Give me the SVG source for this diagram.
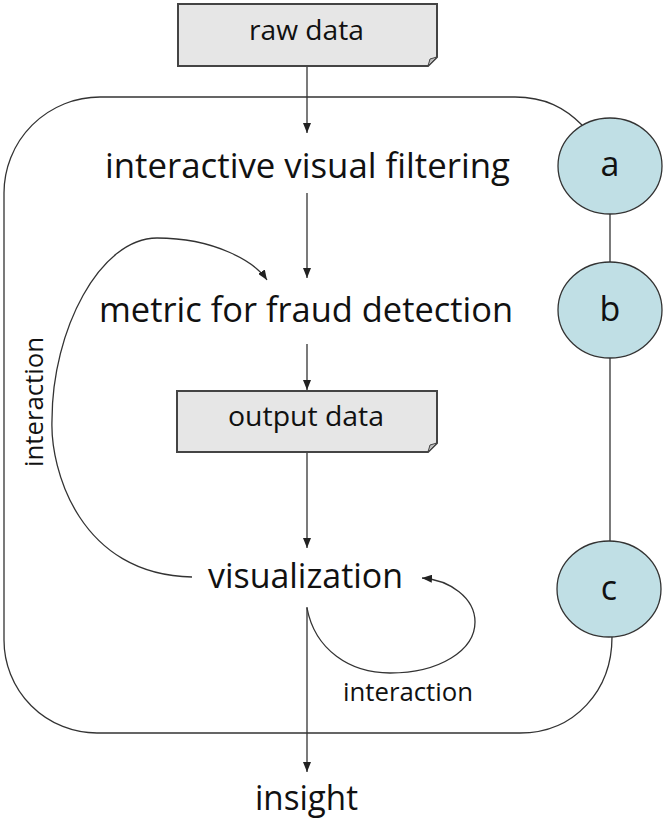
<svg xmlns="http://www.w3.org/2000/svg" width="667" height="820" viewBox="0 0 667 820">
<style>
.main{font-family:"Open Sans","Liberation Sans",sans-serif;font-size:35px;fill:#111}
.box{font-family:"Open Sans","Liberation Sans",sans-serif;font-size:28px;fill:#111}
.small{font-family:"Open Sans","Liberation Sans",sans-serif;font-size:25px;fill:#111}
.circ{font-family:"Open Sans","Liberation Sans",sans-serif;font-size:34px;fill:#111;text-anchor:middle}
.ln{fill:none;stroke:#333;stroke-width:1.3}
.boxs{fill:#e6e6e6;stroke:#444;stroke-width:2}
.fold{fill:#bdbdbd;stroke:#444;stroke-width:1}
.ell{fill:#c0dfe5;stroke:#333;stroke-width:1.3}
</style>
<defs>
<marker id="arr" viewBox="0 0 10 8" refX="10" refY="4" markerWidth="10" markerHeight="8" markerUnits="userSpaceOnUse" orient="auto">
<path d="M0,0 L10,4 L0,8 z" fill="#222"/>
</marker>
</defs>
<rect width="667" height="820" fill="#fff"/>
<g id="connectors">
<path class="ln" d="M582 125 C565 108 545 97 515 97 L100 97 A96 96 0 0 0 4 193 L4 640 A93 93 0 0 0 97 733 L520 733 C575 733 612 690 612 637"/>
<line class="ln" x1="610" y1="214" x2="610" y2="262"/>
<line class="ln" x1="610" y1="358" x2="610" y2="541"/>
<line class="ln" x1="307" y1="66" x2="307" y2="133" marker-end="url(#arr)"/>
<line class="ln" x1="307" y1="193" x2="307" y2="278" marker-end="url(#arr)"/>
<line class="ln" x1="307" y1="344" x2="307" y2="390" marker-end="url(#arr)"/>
<line class="ln" x1="307" y1="452" x2="307" y2="548" marker-end="url(#arr)"/>
<line class="ln" x1="307" y1="607" x2="307" y2="772" marker-end="url(#arr)"/>
<path class="ln" d="M192 577 C80 575 50 470 52 420 C52 330 100 238 157 238 C215 238 255 262 267 280" marker-end="url(#arr)"/>
<path class="ln" d="M307 608 C315 650 350 673 390 673 C440 673 475 650 475 622 C475 598 450 580 422 578" marker-end="url(#arr)"/>
<text class="small" x="343" y="701" textLength="130" lengthAdjust="spacingAndGlyphs">interaction</text>
<text class="small" transform="translate(43,467) rotate(-90)" x="0" y="0" textLength="130" lengthAdjust="spacingAndGlyphs">interaction</text>
</g>
<g id="raw-data">
<path class="boxs" d="M178 4 H437 V57 L428 66 H178 Z"/>
<path class="fold" d="M437 57 L430 59 L428 66 Z"/>
<text class="box" x="249" y="40" textLength="115" lengthAdjust="spacingAndGlyphs">raw data</text>
</g>
<g id="filtering">
<text class="main" x="105" y="178" textLength="405" lengthAdjust="spacingAndGlyphs">interactive visual filtering</text>
</g>
<g id="metric">
<text class="main" x="99" y="322" textLength="414" lengthAdjust="spacingAndGlyphs">metric for fraud detection</text>
</g>
<g id="output-data">
<path class="boxs" d="M177 391 H437 V443 L428 452 H177 Z"/>
<path class="fold" d="M437 443 L430 445 L428 452 Z"/>
<text class="box" x="228" y="426" textLength="156" lengthAdjust="spacingAndGlyphs">output data</text>
</g>
<g id="visualization">
<text class="main" x="208" y="588" textLength="195" lengthAdjust="spacingAndGlyphs">visualization</text>
</g>
<g id="insight">
<text class="main" x="255" y="810" textLength="103" lengthAdjust="spacingAndGlyphs">insight</text>
</g>
<g id="node-a">
<ellipse class="ell" cx="610" cy="166" rx="52" ry="48"/>
<text class="circ" x="610" y="176">a</text>
</g>
<g id="node-b">
<ellipse class="ell" cx="610" cy="310" rx="52" ry="48"/>
<text class="circ" x="610" y="321">b</text>
</g>
<g id="node-c">
<ellipse class="ell" cx="609" cy="589" rx="52" ry="48"/>
<text class="circ" x="609" y="600">c</text>
</g>
</svg>
